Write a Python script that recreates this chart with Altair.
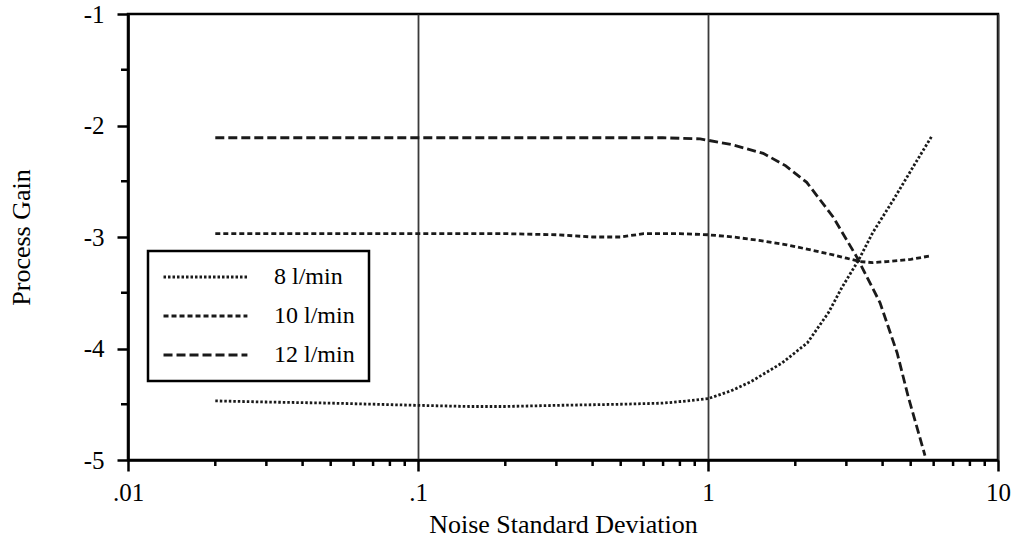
import altair as alt
import pandas as pd

# ---- data ----
series_names = ["8 l/min", "10 l/min", "12 l/min"]

x8 = [0.02, 0.03, 0.05, 0.1, 0.15, 0.2, 0.3, 0.5, 0.7, 0.85, 1.0, 1.2, 1.4, 1.8, 2.2, 2.6, 2.9, 3.3, 3.7, 4.35, 5.1, 5.93]
y8 = [-4.47, -4.48, -4.49, -4.51, -4.52, -4.52, -4.51, -4.50, -4.49, -4.47, -4.45, -4.38, -4.30, -4.13, -3.95, -3.68, -3.45, -3.21, -2.96, -2.67, -2.37, -2.09]

x10 = [0.02, 0.05, 0.1, 0.2, 0.3, 0.4, 0.5, 0.6, 0.8, 1.0, 1.22, 1.5, 1.87, 2.3, 2.7, 3.0, 3.34, 3.7, 4.14, 5.0, 5.83]
y10 = [-2.97, -2.97, -2.97, -2.97, -2.98, -3.0, -3.0, -2.97, -2.97, -2.98, -3.0, -3.03, -3.07, -3.12, -3.16, -3.19, -3.22, -3.23, -3.22, -3.2, -3.17]

x12 = [0.02, 0.1, 0.5, 0.7, 0.94, 1.2, 1.55, 1.85, 2.19, 2.7, 3.26, 3.92, 4.49, 4.9, 5.6]
y12 = [-2.11, -2.11, -2.11, -2.11, -2.12, -2.17, -2.25, -2.36, -2.51, -2.82, -3.18, -3.59, -4.04, -4.43, -4.96]

x_major = [0.01, 0.1, 1, 10]
x_minor = [0.02, 0.03, 0.04, 0.05, 0.06, 0.07, 0.08, 0.09,
           0.2, 0.3, 0.4, 0.5, 0.6, 0.7, 0.8, 0.9,
           2, 3, 4, 5, 6, 7, 8, 9]
y_major = [-1, -2, -3, -4, -5]
y_minor = [-1.5, -2.5, -3.5, -4.5]

rows = []
for name, xs, ys in zip(series_names, [x8, x10, x12], [y8, y10, y12]):
    for i, (a, b) in enumerate(zip(xs, ys)):
        rows.append({"series": name, "x": a, "y": b, "order": i})
df = pd.DataFrame(rows)

FONT = "Liberation Serif"
INK = "#1a1a1a"

xscale = alt.Scale(type="log", domain=[0.01, 10], nice=False)
yscale = alt.Scale(domain=[-5, -1], nice=False, zero=False)

xaxis = alt.Axis(values=x_major, title="Noise Standard Deviation",
                 labelExpr="datum.value == 0.01 ? '.01' : (datum.value == 0.1 ? '.1' : '' + datum.value)",
                 labelFlush=False,
                 grid=True, gridColor="#3a3a3a", gridWidth=1.8,
                 tickSize=11, labelPadding=9, titlePadding=6)
yaxis = alt.Axis(values=y_major, title="Process Gain",
                 labelExpr="'' + datum.value", labelFlush=False, grid=False,
                 tickSize=11, labelPadding=13, titlePadding=49)

lines = alt.Chart(df).mark_line(strokeWidth=2.8, color=INK, strokeCap="butt").encode(
    x=alt.X("x:Q", scale=xscale, axis=xaxis),
    y=alt.Y("y:Q", scale=yscale, axis=yaxis),
    strokeDash=alt.StrokeDash(
        "series:N",
        scale=alt.Scale(domain=series_names, range=[[2.5, 2], [5, 3], [9, 4]]),
        legend=alt.Legend(orient="none", legendX=20, legendY=237, title=None,
                          symbolType="M-2,0H14", symbolSize=110,
                          symbolStrokeWidth=2.8, symbolStrokeColor=INK,
                          labelOffset=88, labelFontSize=24, labelFont=FONT,
                          labelColor="black", rowPadding=15, padding=14,
                          strokeColor="black"),
    ),
    order="order:Q",
)

xminor = alt.Chart(pd.DataFrame({"x": x_minor})).mark_rule(color="black", strokeWidth=2.5).encode(
    x=alt.X("x:Q", scale=xscale, axis=xaxis),
    y=alt.value(446), y2=alt.value(452),
)

yminor = alt.Chart(pd.DataFrame({"y": y_minor})).mark_rule(color="black", strokeWidth=2.5).encode(
    y=alt.Y("y:Q", scale=yscale, axis=yaxis),
    x=alt.value(-7), x2=alt.value(0),
)

chart = alt.layer(lines, xminor, yminor).properties(
    width=870, height=446,
    autosize=alt.AutoSizeParams(type="none"),
    padding={"left": 128, "top": 14, "right": 18, "bottom": 81},
).configure(
    font=FONT,
    background="white",
).configure_view(
    stroke="black", strokeWidth=2.5,
).configure_axis(
    domainColor="black", domainWidth=2.5, tickColor="black", tickWidth=2.5,
    labelFont=FONT, labelFontSize=25, labelColor="black",
    titleFont=FONT, titleFontSize=26, titleFontWeight="normal", titleColor="black",
).configure_legend(
    strokeWidth=2.5,
)

chart.save("out.html", embed_options={"renderer": "svg", "actions": False})
